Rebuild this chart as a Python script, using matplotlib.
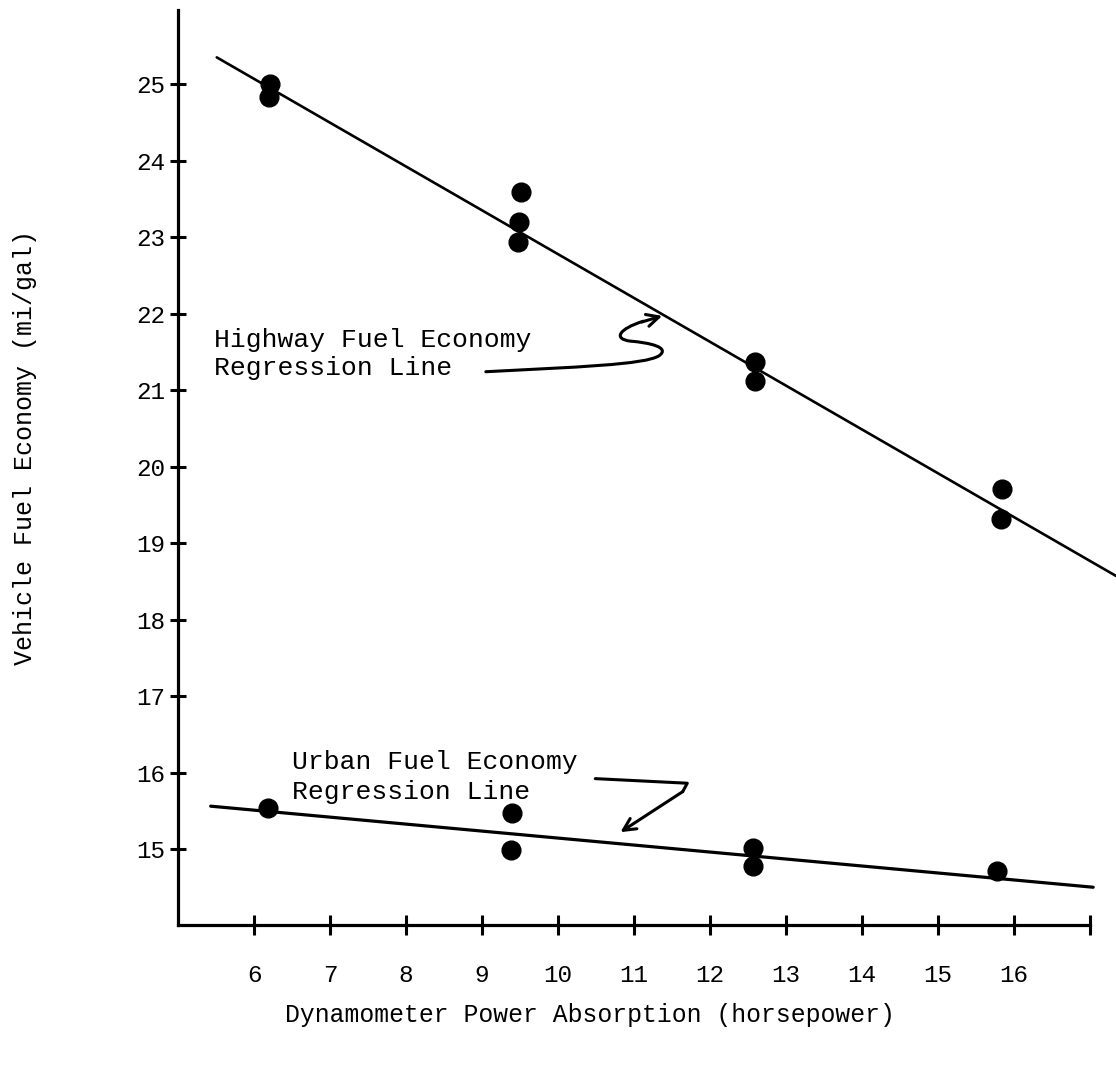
import matplotlib
matplotlib.use("Agg")
import matplotlib.pyplot as plt
from matplotlib.path import Path
from matplotlib.patches import PathPatch

# measured points (horsepower, mi/gal)
highway_hp = [6.21, 6.20, 9.51, 9.49, 9.47, 12.59, 12.59, 15.84, 15.83]
highway_mpg = [25.00, 24.83, 23.59, 23.20, 22.93, 21.37, 21.12, 19.71, 19.31]
urban_hp = [6.19, 9.39, 9.38, 12.57, 12.56, 15.78]
urban_mpg = [15.53, 15.47, 14.99, 15.01, 14.78, 14.71]

# regression lines as drawn (end points)
highway_line_hp = [5.51, 17.34]
highway_line_mpg = [25.35, 18.57]
urban_line_hp = [5.43, 17.04]
urban_line_mpg = [15.56, 14.50]

x_ticks = list(range(6, 18))
x_labels = [str(v) for v in range(6, 17)] + [""]
y_ticks = list(range(15, 26))
y_labels = [str(v) for v in y_ticks]

FONT = "Liberation Mono"

fig = plt.figure(figsize=(11.16, 10.65), dpi=100)
ax = fig.add_axes([178 / 1116, 0.131, 1 - 178 / 1116, 0.869])

ax.plot(highway_line_hp, highway_line_mpg, color="black", lw=1.9, solid_capstyle="round")
ax.plot(urban_line_hp, urban_line_mpg, color="black", lw=2.3, solid_capstyle="round")
ax.plot(highway_hp, highway_mpg, "o", color="black", ms=13.5, zorder=3)
ax.plot(urban_hp, urban_mpg, "o", color="black", ms=13.5, zorder=3)

ax.set_xlim(5, 17.34)
ax.set_ylim(14, 26.1)

for side in ["top", "right"]:
    ax.spines[side].set_visible(False)
ax.spines["left"].set_linewidth(2.3)
ax.spines["bottom"].set_linewidth(2.3)
ax.spines["left"].set_bounds(14, 25.97)
ax.spines["bottom"].set_bounds(5, 17)

ax.set_xticks(x_ticks)
ax.set_xticklabels(x_labels, fontfamily=FONT, fontsize=17.5)
ax.set_yticks(y_ticks)
ax.set_yticklabels(y_labels, fontfamily=FONT, fontsize=17.5)
ax.tick_params(axis="x", direction="inout", length=14, width=2.2, pad=21)
ax.tick_params(axis="y", direction="inout", length=12, width=2.2, pad=3)

ax.set_xlabel("Dynamometer Power Absorption (horsepower)", fontfamily=FONT,
              fontsize=17.8)
ax.xaxis.set_label_coords(0.439, -0.084)
ax.set_ylabel("Vehicle Fuel Economy (mi/gal)", fontfamily=FONT, fontsize=18)
ax.yaxis.set_label_coords(-0.150, 0.517)

# annotations
ax.text(5.47, 21.65, "Highway Fuel Economy", fontfamily=FONT, fontsize=19,
        va="center", ha="left")
ax.text(5.47, 21.29, "Regression Line", fontfamily=FONT, fontsize=19,
        va="center", ha="left")
ax.text(6.5, 16.14, "Urban Fuel Economy", fontfamily=FONT, fontsize=19,
        va="center", ha="left")
ax.text(6.5, 15.75, "Regression Line", fontfamily=FONT, fontsize=19,
        va="center", ha="left")

# hand-drawn squiggle arrow to the highway line
squiggle = Path(
    [(9.05, 21.24),
     (10.2, 21.30), (11.15, 21.33), (11.33, 21.45),
     (11.48, 21.56), (11.2, 21.62), (10.95, 21.64),
     (10.72, 21.67), (10.8, 21.80), (11.12, 21.90)],
    [Path.MOVETO,
     Path.CURVE4, Path.CURVE4, Path.CURVE4,
     Path.CURVE4, Path.CURVE4, Path.CURVE4,
     Path.CURVE4, Path.CURVE4, Path.CURVE4])
ax.add_patch(PathPatch(squiggle, facecolor="none", edgecolor="black", lw=2.2,
                       capstyle="round"))
ax.annotate("", xy=(11.37, 21.97), xytext=(11.10, 21.89),
            arrowprops=dict(arrowstyle="->", lw=2.2, color="black",
                            mutation_scale=22, shrinkA=0, shrinkB=0))

# zig-zag arrow to the urban line
ub_path_x = [10.49, 11.70, 11.64]
ub_path_y = [15.92, 15.86, 15.75]
ax.plot(ub_path_x, ub_path_y, color="black", lw=2.2, solid_capstyle="round",
        solid_joinstyle="round")
ax.annotate("", xy=(10.82, 15.22), xytext=(11.64, 15.75),
            arrowprops=dict(arrowstyle="->", lw=2.2, color="black",
                            mutation_scale=22, shrinkA=0, shrinkB=0))

fig.savefig("out.png", dpi=100)
